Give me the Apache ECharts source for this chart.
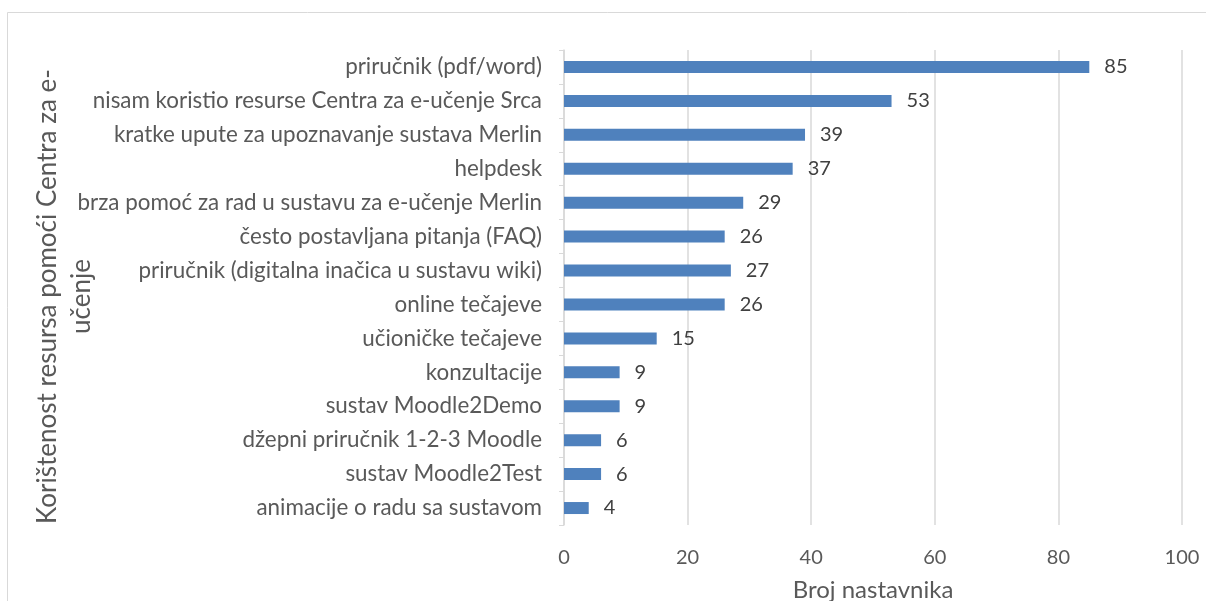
<!DOCTYPE html>
<html>
<head>
<meta charset="utf-8">
<script src="https://cdn.jsdelivr.net/npm/echarts@6/dist/echarts.min.js"></script>
<style>
  html, body { margin: 0; padding: 0; background: #fff; }
  #chart { width: 1206px; height: 601px; }
</style>
</head>
<body>
<div id="chart"></div>
<script>
// categories listed top to bottom as in the picture
const categories = [
  'priručnik (pdf/word)',
  'nisam koristio resurse Centra za e-učenje Srca',
  'kratke upute za upoznavanje sustava Merlin',
  'helpdesk',
  'brza pomoć za rad u sustavu za e-učenje Merlin',
  'često postavljana pitanja (FAQ)',
  'priručnik (digitalna inačica u sustavu wiki)',
  'online tečajeve',
  'učioničke tečajeve',
  'konzultacije',
  'sustav Moodle2Demo',
  'džepni priručnik 1-2-3 Moodle',
  'sustav Moodle2Test',
  'animacije o radu sa sustavom'
];
const values = [85, 53, 39, 37, 29, 26, 27, 26, 15, 9, 9, 6, 6, 4];
const xTicks = [0, 20, 40, 60, 80, 100];

const font = 'Lato, "Open Sans", sans-serif';
const chart = echarts.init(document.getElementById('chart'));

chart.setOption({
  backgroundColor: '#fff',
  animation: false,
  textStyle: { fontFamily: font },
  graphic: [{
    type: 'rect',
    shape: { x: 7.5, y: 12.5, width: 1300, height: 700 },
    style: { fill: 'none', stroke: '#d9d9d9', lineWidth: 1 },
    silent: true
  }],
  grid: { left: 564, right: 24, top: 50, bottom: 76, outerBoundsMode: 'none' },
  xAxis: {
    type: 'value',
    min: xTicks[0],
    max: xTicks[xTicks.length - 1],
    interval: 20,
    name: 'Broj nastavnika',
    nameLocation: 'middle',
    nameGap: 53,
    nameMoveOverlap: false,
    nameTextStyle: { color: '#595959', fontSize: 24, fontFamily: font },
    axisLine: { show: false },
    axisTick: { show: false },
    axisLabel: { color: '#595959', fontSize: 20, margin: 23, fontFamily: font },
    splitLine: { lineStyle: { color: '#d9d9d9', width: 1.5 } }
  },
  yAxis: {
    type: 'category',
    data: categories,
    inverse: true,
    name: 'Korištenost resursa pomoći Centra za e-\nučenje',
    nameLocation: 'middle',
    nameRotate: 90,
    nameGap: 465,
    nameMoveOverlap: false,
    nameTextStyle: {
      color: '#595959', fontSize: 26, lineHeight: 34, fontFamily: font,
      padding: [0, 18, 0, 0]
    },
    axisLine: { show: true, lineStyle: { color: '#d9d9d9', width: 1.5 } },
    axisTick: { show: true, length: 5, lineStyle: { color: '#d9d9d9' } },
    axisLabel: { color: '#595959', fontSize: 22.4, margin: 22, fontFamily: font }
  },
  series: [{
    type: 'bar',
    data: values,
    barWidth: 12,
    itemStyle: { color: '#4f81bd' },
    label: {
      show: true,
      position: 'right',
      distance: 15,
      color: '#404040',
      fontSize: 20,
      fontFamily: font
    }
  }]
});
</script>
</body>
</html>
